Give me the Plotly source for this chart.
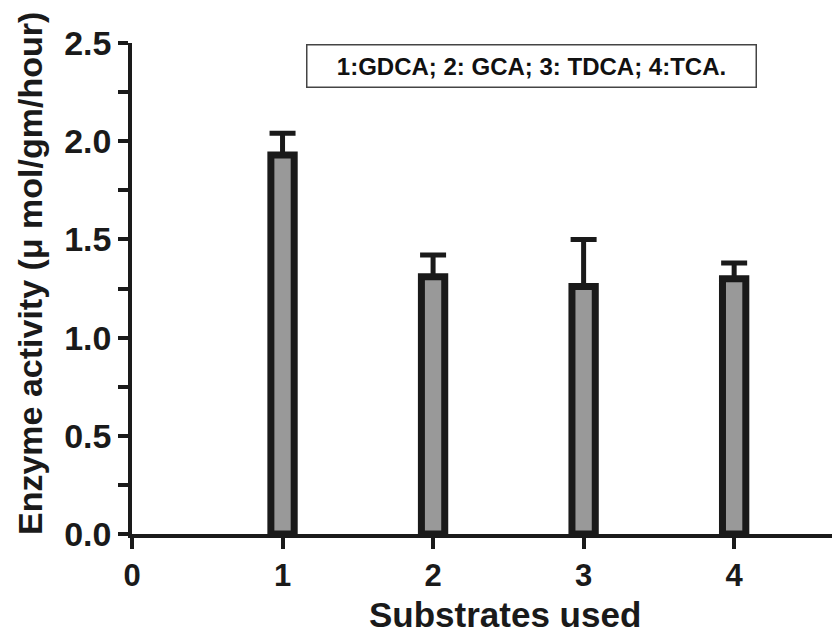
import plotly.graph_objects as go

# Substrate index, mean activity and upper error
substrates = [1, 2, 3, 4]
activity = [1.93, 1.31, 1.26, 1.30]
error_up = [0.11, 0.11, 0.24, 0.08]

y_ticks = [0, 0.25, 0.5, 0.75, 1.0, 1.25, 1.5, 1.75, 2.0, 2.25, 2.5]
y_tick_text = ["0.0", "", "0.5", "", "1.0", "", "1.5", "", "2.0", "", "2.5"]
x_ticks = [0, 1, 2, 3, 4]

dark = "#1a1a1a"
font_family = "Liberation Sans, Arial, sans-serif"

fig = go.Figure()
fig.add_trace(go.Bar(
    x=substrates,
    y=activity,
    width=0.155,
    marker=dict(color="#999999", line=dict(color=dark, width=7)),
    error_y=dict(
        type="data",
        symmetric=False,
        array=error_up,
        arrayminus=[0] * len(error_up),
        color=dark,
        thickness=5,
        width=13,
    ),
    showlegend=False,
))

# Key to the substrate numbers
fig.add_annotation(
    text="1:GDCA; 2: GCA; 3: TDCA; 4:TCA.",
    xref="paper", yref="paper",
    x=0.5707, y=0.954,
    xanchor="center", yanchor="middle",
    showarrow=False,
    font=dict(family=font_family, size=24, color="#111111", weight="bold"),
    bordercolor="#444444", borderwidth=1.5, borderpad=7,
    bgcolor="white",
    width=434,
)

# Axis titles
fig.add_annotation(
    text="Substrates used",
    xref="paper", yref="paper",
    x=0.533, y=-0.163,
    xanchor="center", yanchor="middle",
    showarrow=False,
    font=dict(family=font_family, size=35, color=dark, weight="bold"),
)
fig.add_annotation(
    text="Enzyme activity (\u03bc mol/gm/hour)",
    xref="paper", yref="paper",
    x=-0.1457, y=0.5295,
    xanchor="center", yanchor="middle",
    textangle=-90,
    showarrow=False,
    font=dict(family=font_family, size=34, color=dark, weight="bold"),
)

fig.update_layout(
    width=832, height=639,
    margin=dict(l=132, r=0, t=43, b=105),
    paper_bgcolor="white", plot_bgcolor="white",
    xaxis=dict(
        range=[0, 4.65],
        automargin=False,
        tickmode="array", tickvals=x_ticks,
        ticks="outside", ticklen=11, tickwidth=3.5, tickcolor=dark,
        showline=True, linewidth=3.5, linecolor=dark,
        showgrid=False, zeroline=False,
        tickfont=dict(family=font_family, size=31, color=dark, weight="bold"),
    ),
    yaxis=dict(
        range=[0, 2.5],
        automargin=False,
        tickmode="array", tickvals=y_ticks, ticktext=y_tick_text,
        ticks="outside", ticklen=10, tickwidth=3.5, tickcolor=dark,
        showline=True, linewidth=3.5, linecolor=dark,
        showgrid=False, zeroline=False,
        tickfont=dict(family=font_family, size=34, color=dark, weight="bold"),
    ),
)

fig.write_html("out.html")
